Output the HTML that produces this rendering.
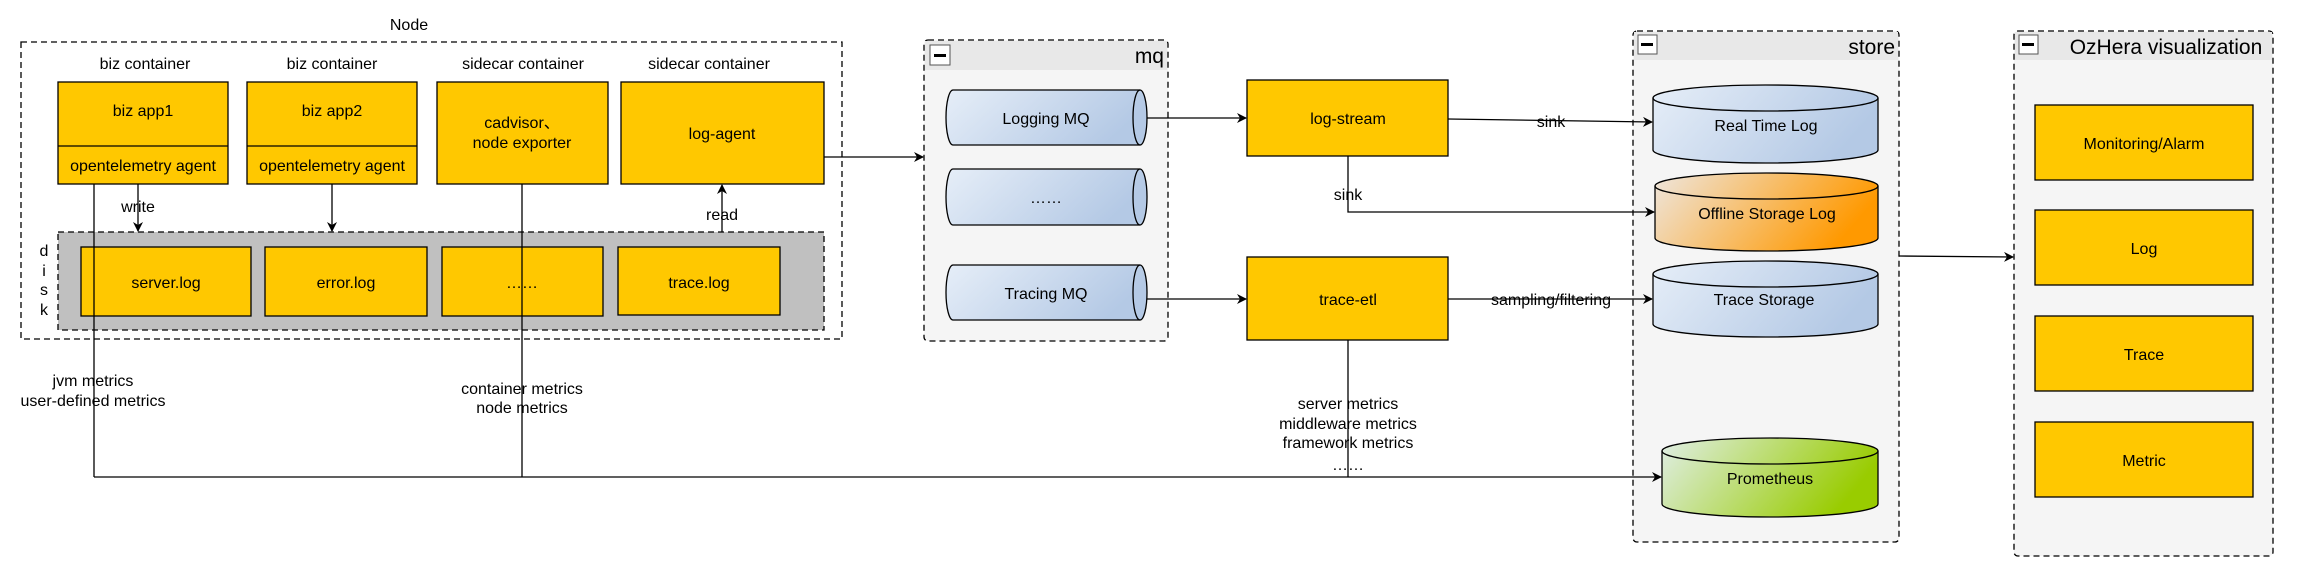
<!DOCTYPE html>
<html><head><meta charset="utf-8"><style>
html,body{margin:0;padding:0;background:#fff}
svg{display:block}
text{font-family:"Liberation Sans","DejaVu Sans",sans-serif;font-size:16px;fill:#000}
</style></head><body>
<svg width="2310" height="586" viewBox="0 0 2310 586" xmlns="http://www.w3.org/2000/svg">
<defs>
<marker id="a" viewBox="0 0 10 10" refX="9" refY="5" markerWidth="10" markerHeight="10" markerUnits="userSpaceOnUse" orient="auto"><path d="M0,0 L10,5 L0,10 L3,5 Z" fill="#000"/></marker>
<linearGradient id="blue" x1="0" y1="0" x2="1" y2="0.3"><stop offset="0" stop-color="#e6eef8"/><stop offset="1" stop-color="#b4c9e5"/></linearGradient>
<linearGradient id="orange" x1="0" y1="0" x2="1" y2="0.3"><stop offset="0" stop-color="#eee6de"/><stop offset="1" stop-color="#ff9900"/></linearGradient>
<linearGradient id="green" x1="0" y1="0" x2="1" y2="0.3"><stop offset="0" stop-color="#e0eee6"/><stop offset="1" stop-color="#99cc00"/></linearGradient>
</defs>

<!-- store container bg -->
<rect x="1633" y="31" width="266" height="511" rx="4" fill="#f5f5f5" stroke="#000" stroke-width="1.3" stroke-dasharray="6,4"/>
<rect x="1634" y="32" width="264" height="28" fill="#e8e8e8"/>
<rect x="1638" y="35" width="19" height="19" fill="#fff" stroke="#555"/>
<rect x="1641" y="43" width="12" height="3" fill="#000"/>
<text x="1895" y="54" text-anchor="end" style="font-size:21px">store</text>

<!-- OzHera container bg -->
<rect x="2014" y="31" width="259" height="525" rx="4" fill="#f5f5f5" stroke="#000" stroke-width="1.3" stroke-dasharray="6,4"/>
<rect x="2015" y="32" width="257" height="28" fill="#e8e8e8"/>
<rect x="2019" y="35" width="19" height="19" fill="#fff" stroke="#555"/>
<rect x="2022" y="43" width="12" height="3" fill="#000"/>
<text x="2166" y="54" text-anchor="middle" style="font-size:21px">OzHera visualization</text>

<!-- mq container bg -->
<rect x="924" y="40" width="244" height="301" rx="4" fill="#f5f5f5" stroke="#000" stroke-width="1.3" stroke-dasharray="6,4"/>
<rect x="925" y="41" width="242" height="29" fill="#e8e8e8"/>
<rect x="930" y="45" width="20" height="20" fill="#fff" stroke="#555"/>
<rect x="934" y="54" width="12" height="3" fill="#000"/>
<text x="1164" y="63" text-anchor="end" style="font-size:21px">mq</text>

<!-- Node -->
<text x="409" y="30" text-anchor="middle">Node</text>
<rect x="21" y="42" width="821" height="297" fill="none" stroke="#000" stroke-width="1.3" stroke-dasharray="6,4"/>
<text x="145" y="69" text-anchor="middle">biz container</text>
<text x="332" y="69" text-anchor="middle">biz container</text>
<text x="523" y="69" text-anchor="middle">sidecar container</text>
<text x="709" y="69" text-anchor="middle">sidecar container</text>

<g stroke="#000" stroke-width="1.3" fill="#ffc800">
<rect x="58" y="82" width="170" height="102"/><line x1="58" y1="146" x2="228" y2="146"/>
<rect x="247" y="82" width="170" height="102"/><line x1="247" y1="146" x2="417" y2="146"/>
<rect x="437" y="82" width="171" height="102"/>
<rect x="621" y="82" width="203" height="102"/>
</g>
<text x="143" y="116" text-anchor="middle">biz app1</text>
<text x="143" y="171" text-anchor="middle">opentelemetry agent</text>
<text x="332" y="116" text-anchor="middle">biz app2</text>
<text x="332" y="171" text-anchor="middle">opentelemetry agent</text>
<text x="522" y="128" text-anchor="middle">cadvisor、</text>
<text x="522" y="148" text-anchor="middle">node exporter</text>
<text x="722" y="139" text-anchor="middle">log-agent</text>

<!-- disk -->
<rect x="58" y="232" width="766" height="98" fill="#c0c0c0" stroke="#000" stroke-width="1.3" stroke-dasharray="6,4"/>
<text x="44" y="256" text-anchor="middle">d</text>
<text x="44" y="276" text-anchor="middle">i</text>
<text x="44" y="295" text-anchor="middle">s</text>
<text x="44" y="315" text-anchor="middle">k</text>
<g stroke="#000" stroke-width="1.3" fill="#ffc800">
<rect x="81" y="247" width="170" height="69"/>
<rect x="265" y="247" width="162" height="69"/>
<rect x="442" y="247" width="161" height="69"/>
<rect x="618" y="247" width="162" height="68"/>
</g>
<text x="166" y="288" text-anchor="middle">server.log</text>
<text x="346" y="288" text-anchor="middle">error.log</text>
<text x="522" y="288" text-anchor="middle">……</text>
<text x="699" y="288" text-anchor="middle">trace.log</text>

<!-- mq cylinders -->
<g stroke="#000" stroke-width="1.3" fill="url(#blue)">
<path d="M953,90 H1140 A7,27.5 0 0 1 1140,145 H953 A7,27.5 0 0 1 953,90 Z"/>
<path d="M1140,90 A7,27.5 0 0 0 1140,145" fill="none"/>
<path d="M953,169 H1140 A7,28 0 0 1 1140,225 H953 A7,28 0 0 1 953,169 Z"/>
<path d="M1140,169 A7,28 0 0 0 1140,225" fill="none"/>
<path d="M953,265 H1140 A7,27.5 0 0 1 1140,320 H953 A7,27.5 0 0 1 953,265 Z"/>
<path d="M1140,265 A7,27.5 0 0 0 1140,320" fill="none"/>
</g>
<text x="1046" y="124" text-anchor="middle">Logging MQ</text>
<text x="1046" y="203" text-anchor="middle">……</text>
<text x="1046" y="299" text-anchor="middle">Tracing MQ</text>

<!-- processing -->
<g stroke="#000" stroke-width="1.3" fill="#ffc800">
<rect x="1247" y="80" width="201" height="76"/>
<rect x="1247" y="257" width="201" height="83"/>
</g>
<text x="1348" y="124" text-anchor="middle">log-stream</text>
<text x="1348" y="305" text-anchor="middle">trace-etl</text>

<!-- store cylinders -->
<g stroke="#000" stroke-width="1.3">
<path d="M1653,98 A112.5,13 0 0 1 1878,98 V150 A112.5,13 0 0 1 1653,150 Z" fill="url(#blue)"/>
<path d="M1653,98 A112.5,13 0 0 0 1878,98" fill="none"/>
<path d="M1655,186 A111.5,13 0 0 1 1878,186 V238 A111.5,13 0 0 1 1655,238 Z" fill="url(#orange)"/>
<path d="M1655,186 A111.5,13 0 0 0 1878,186" fill="none"/>
<path d="M1653,274 A112.5,13 0 0 1 1878,274 V324 A112.5,13 0 0 1 1653,324 Z" fill="url(#blue)"/>
<path d="M1653,274 A112.5,13 0 0 0 1878,274" fill="none"/>
<path d="M1662,451 A108,13 0 0 1 1878,451 V504 A108,13 0 0 1 1662,504 Z" fill="url(#green)"/>
<path d="M1662,451 A108,13 0 0 0 1878,451" fill="none"/>
</g>
<text x="1766" y="131" text-anchor="middle">Real Time Log</text>
<text x="1767" y="219" text-anchor="middle">Offline Storage Log</text>
<text x="1764" y="305" text-anchor="middle">Trace Storage</text>
<text x="1770" y="484" text-anchor="middle">Prometheus</text>

<!-- Oz boxes -->
<g stroke="#000" stroke-width="1.3" fill="#ffc800">
<rect x="2035" y="105" width="218" height="75"/>
<rect x="2035" y="210" width="218" height="75"/>
<rect x="2035" y="316" width="218" height="75"/>
<rect x="2035" y="422" width="218" height="75"/>
</g>
<text x="2144" y="149" text-anchor="middle">Monitoring/Alarm</text>
<text x="2144" y="254" text-anchor="middle">Log</text>
<text x="2144" y="360" text-anchor="middle">Trace</text>
<text x="2144" y="466" text-anchor="middle">Metric</text>

<!-- connectors -->
<g stroke="#000" stroke-width="1.3" fill="none">
<line x1="138" y1="184" x2="138" y2="231" marker-end="url(#a)"/>
<line x1="332" y1="184" x2="332" y2="231" marker-end="url(#a)"/>
<line x1="722" y1="232" x2="722" y2="185" marker-end="url(#a)"/>
<line x1="94" y1="184" x2="94" y2="477"/>
<line x1="522" y1="184" x2="522" y2="477"/>
<line x1="94" y1="477" x2="1661" y2="477" marker-end="url(#a)"/>
<line x1="824" y1="157" x2="923" y2="157" marker-end="url(#a)"/>
<line x1="1147" y1="118" x2="1246" y2="118" marker-end="url(#a)"/>
<line x1="1147" y1="299" x2="1246" y2="299" marker-end="url(#a)"/>
<line x1="1448" y1="119" x2="1652" y2="122" marker-end="url(#a)"/>
<polyline points="1348,156 1348,212 1654,212" marker-end="url(#a)"/>
<line x1="1448" y1="299" x2="1652" y2="299" marker-end="url(#a)"/>
<line x1="1348" y1="340" x2="1348" y2="477"/>
<line x1="1899" y1="256" x2="2013" y2="257" marker-end="url(#a)"/>
</g>
<text x="138" y="212" text-anchor="middle">write</text>
<text x="722" y="220" text-anchor="middle">read</text>
<text x="93" y="386" text-anchor="middle">jvm metrics</text>
<text x="93" y="406" text-anchor="middle">user-defined metrics</text>
<text x="522" y="394" text-anchor="middle">container metrics</text>
<text x="522" y="413" text-anchor="middle">node metrics</text>
<text x="1551" y="127" text-anchor="middle">sink</text>
<text x="1348" y="200" text-anchor="middle">sink</text>
<text x="1551" y="305" text-anchor="middle">sampling/filtering</text>
<text x="1348" y="409" text-anchor="middle">server metrics</text>
<text x="1348" y="429" text-anchor="middle">middleware metrics</text>
<text x="1348" y="448" text-anchor="middle">framework metrics</text>
<text x="1348" y="470" text-anchor="middle">……</text>
</svg>
</body></html>
